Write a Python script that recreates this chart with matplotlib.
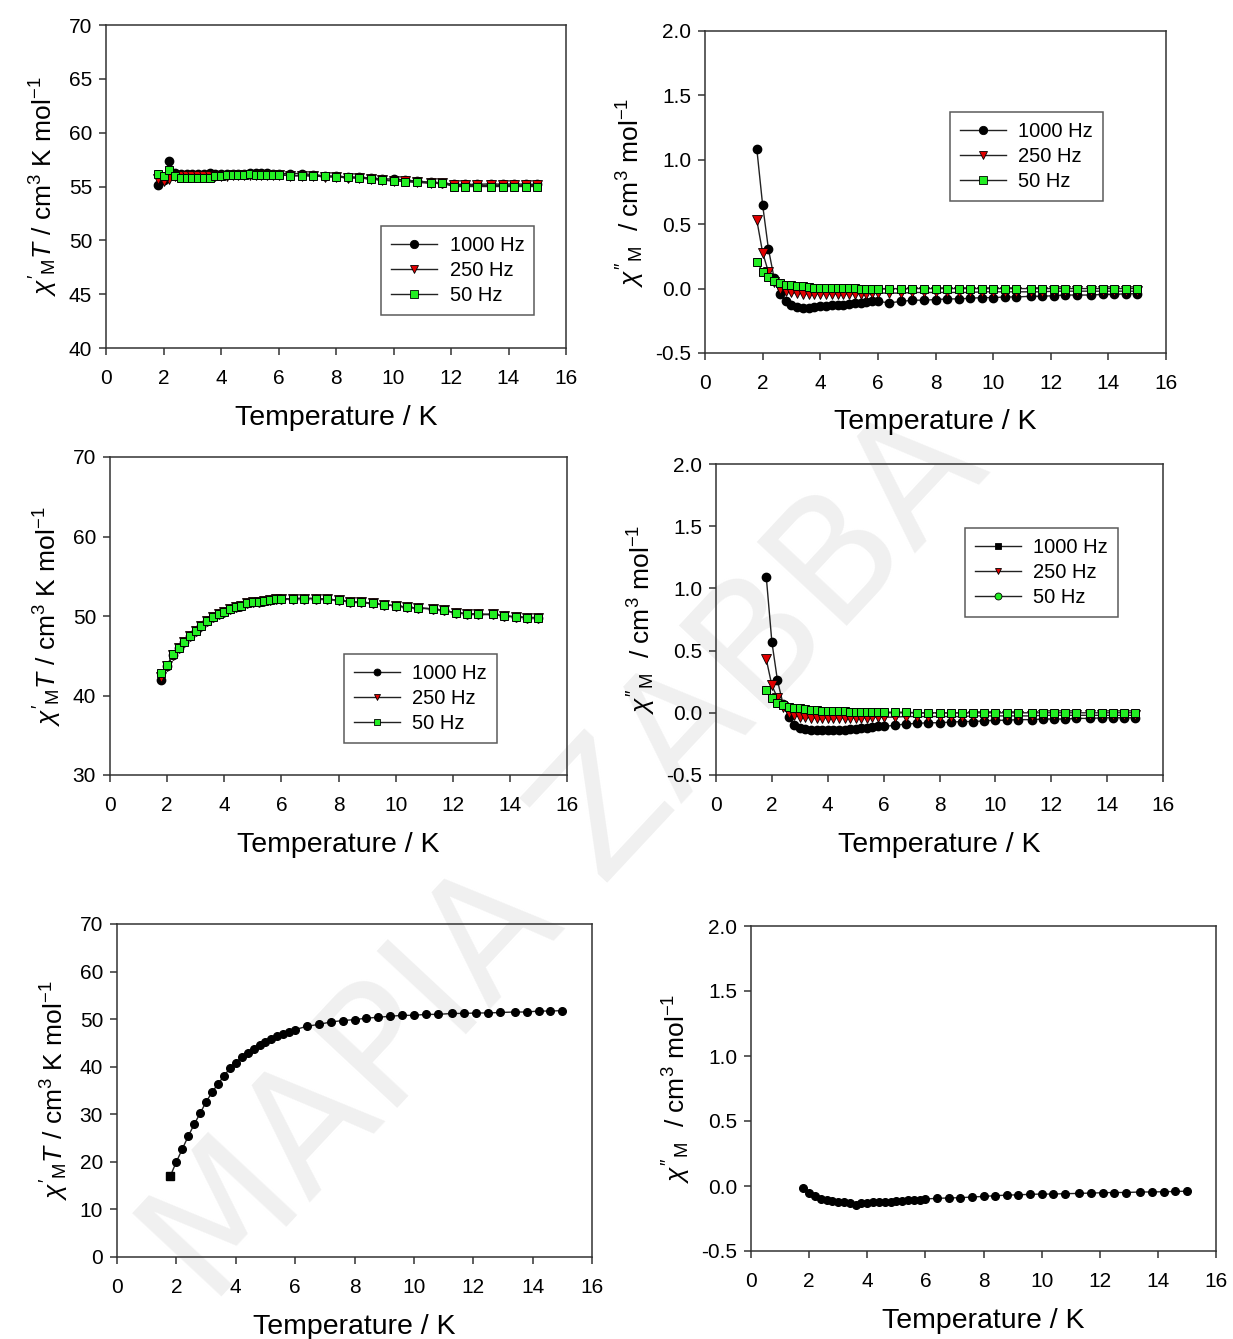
import matplotlib
matplotlib.use("Agg")
import matplotlib.pyplot as plt
from matplotlib.lines import Line2D

plt.rcParams['font.family'] = ['Liberation Sans', 'DejaVu Sans']
plt.rcParams['mathtext.fontset'] = 'custom'
plt.rcParams['mathtext.rm'] = 'Liberation Sans'
plt.rcParams['mathtext.it'] = 'Liberation Sans:italic'
plt.rcParams['mathtext.bf'] = 'Liberation Sans:bold'

# ---------------- data ----------------
temperature = [1.8, 2.0, 2.2, 2.4, 2.6, 2.8, 3.0, 3.2, 3.4, 3.6, 3.8, 4.0, 4.2, 4.4,
               4.6, 4.8, 5.0, 5.2, 5.4, 5.6, 5.8, 6.0, 6.4, 6.8, 7.2, 7.6, 8.0, 8.4,
               8.8, 9.2, 9.6, 10.0, 10.4, 10.8, 11.3, 11.7, 12.1, 12.5, 12.9, 13.4,
               13.8, 14.2, 14.6, 15.0]

# sample 1: in-phase chi'T
s1_real_1000 = [55.1, 55.6, 57.4, 56.3, 56.2, 56.2, 56.2, 56.2, 56.2, 56.3, 56.2, 56.2,
                56.2, 56.2, 56.2, 56.2, 56.3, 56.3, 56.3, 56.3, 56.2, 56.2, 56.2, 56.2,
                56.1, 56.0, 55.95, 55.9, 55.85, 55.8, 55.7, 55.7, 55.6, 55.5, 55.4, 55.35,
                55.2, 55.2, 55.2, 55.25, 55.2, 55.25, 55.2, 55.2]
s1_real_250 = [55.7, 55.5, 55.7, 56.0, 56.0, 56.0, 56.0, 56.0, 56.0, 56.0, 56.0, 56.0,
               56.0, 56.1, 56.1, 56.1, 56.1, 56.1, 56.1, 56.1, 56.1, 56.1, 56.0, 56.0,
               56.0, 55.9, 55.9, 55.8, 55.8, 55.7, 55.6, 55.5, 55.5, 55.4, 55.3, 55.3,
               55.1, 55.1, 55.1, 55.1, 55.1, 55.1, 55.1, 55.1]
s1_real_50 = [56.2, 56.0, 56.5, 56.0, 55.8, 55.8, 55.8, 55.8, 55.8, 55.8, 56.0, 56.0,
              56.1, 56.1, 56.1, 56.1, 56.2, 56.1, 56.1, 56.1, 56.1, 56.1, 56.0, 56.0,
              56.0, 55.95, 55.9, 55.85, 55.8, 55.7, 55.6, 55.55, 55.45, 55.4, 55.35, 55.3,
              55.0, 55.0, 55.0, 55.0, 55.0, 55.0, 55.0, 55.0]

# sample 1: out-of-phase chi''
s1_imag_1000 = [1.08, 0.65, 0.31, 0.08, -0.04, -0.10, -0.13, -0.14, -0.15, -0.15, -0.14,
                -0.135, -0.135, -0.13, -0.13, -0.125, -0.12, -0.115, -0.11, -0.105, -0.10,
                -0.10, -0.11, -0.10, -0.09, -0.09, -0.085, -0.08, -0.08, -0.075, -0.07,
                -0.07, -0.065, -0.065, -0.06, -0.06, -0.055, -0.05, -0.05, -0.05, -0.045,
                -0.045, -0.04, -0.04]
s1_imag_250 = [0.53, 0.28, 0.13, 0.05, 0.0, -0.02, -0.03, -0.035, -0.04, -0.04, -0.04,
               -0.04, -0.04, -0.04, -0.04, -0.04, -0.04, -0.04, -0.04, -0.04, -0.035,
               -0.035, -0.035, -0.035, -0.03, -0.03, -0.03, -0.03, -0.03, -0.03, -0.025,
               -0.025, -0.025, -0.025, -0.025, -0.025, -0.02, -0.02, -0.02, -0.02, -0.02,
               -0.02, -0.02, -0.02]
s1_imag_50 = [0.21, 0.13, 0.09, 0.06, 0.04, 0.03, 0.025, 0.02, 0.02, 0.015, 0.005,
              0.005, 0.005, 0.005, 0.005, 0.005, 0.005, 0.005, 0.0, 0.0, 0.0, 0.0, 0.0,
              0.0, 0.0, 0.0, 0.0, 0.0, 0.0, 0.0, 0.0, 0.0, 0.0, 0.0, 0.0, 0.0, 0.0, 0.0,
              0.0, 0.0, 0.0, 0.0, 0.0, 0.0]

# sample 2: in-phase chi'T
s2_real_1000 = [42.0, 43.7, 45.1, 46.0, 46.7, 47.5, 48.1, 48.8, 49.4, 49.9, 50.3, 50.5,
                50.9, 51.1, 51.3, 51.6, 51.7, 51.8, 51.9, 52.0, 52.1, 52.1, 52.2, 52.2,
                52.2, 52.1, 52.0, 51.8, 51.7, 51.6, 51.4, 51.3, 51.1, 51.0, 50.9, 50.7,
                50.4, 50.3, 50.2, 50.2, 50.0, 49.9, 49.8, 49.8]
s2_real_250 = [42.3, 43.7, 45.1, 46.0, 46.7, 47.5, 48.1, 48.8, 49.4, 49.9, 50.3, 50.5,
               50.9, 51.1, 51.3, 51.6, 51.7, 51.8, 51.9, 52.0, 52.1, 52.1, 52.2, 52.2,
               52.2, 52.1, 52.0, 51.8, 51.7, 51.6, 51.4, 51.3, 51.1, 51.0, 50.9, 50.7,
               50.4, 50.3, 50.2, 50.2, 50.0, 49.9, 49.8, 49.8]
s2_real_50 = [42.8, 43.8, 45.2, 46.0, 46.7, 47.5, 48.1, 48.8, 49.4, 49.9, 50.3, 50.5,
              50.9, 51.1, 51.3, 51.6, 51.7, 51.8, 51.9, 52.0, 52.1, 52.1, 52.2, 52.2,
              52.2, 52.1, 52.0, 51.8, 51.7, 51.6, 51.4, 51.3, 51.1, 51.0, 50.9, 50.7,
              50.4, 50.3, 50.2, 50.2, 50.0, 49.9, 49.8, 49.8]

# sample 2: out-of-phase chi''
s2_imag_1000 = [1.09, 0.57, 0.26, 0.07, -0.03, -0.10, -0.12, -0.13, -0.14, -0.14, -0.14,
                -0.14, -0.14, -0.135, -0.135, -0.13, -0.13, -0.125, -0.12, -0.115, -0.11,
                -0.11, -0.10, -0.09, -0.085, -0.08, -0.08, -0.075, -0.07, -0.07, -0.065,
                -0.06, -0.06, -0.055, -0.055, -0.05, -0.05, -0.05, -0.045, -0.045, -0.04,
                -0.04, -0.04, -0.04]
s2_imag_250 = [0.43, 0.22, 0.12, 0.05, 0.0, -0.02, -0.03, -0.035, -0.04, -0.04, -0.04,
               -0.04, -0.04, -0.04, -0.04, -0.04, -0.04, -0.04, -0.04, -0.035, -0.035,
               -0.035, -0.035, -0.03, -0.03, -0.03, -0.03, -0.03, -0.03, -0.025, -0.025,
               -0.025, -0.025, -0.025, -0.025, -0.02, -0.02, -0.02, -0.02, -0.02, -0.02,
               -0.02, -0.02, -0.02]
s2_imag_50 = [0.18, 0.12, 0.08, 0.065, 0.05, 0.04, 0.035, 0.03, 0.025, 0.02, 0.018,
              0.015, 0.015, 0.012, 0.012, 0.01, 0.01, 0.01, 0.008, 0.008, 0.005, 0.005,
              0.005, 0.005, 0.0, 0.0, 0.0, 0.0, 0.0, 0.0, 0.0, 0.0, 0.0, 0.0, 0.0, 0.0,
              0.0, 0.0, 0.0, 0.0, 0.0, 0.0, 0.0, 0.0]

# sample 3: single frequency
s3_real = [17.1, 20.0, 22.7, 25.4, 27.9, 30.2, 32.6, 34.6, 36.4, 38.0, 39.7, 40.8, 42.0,
           42.8, 43.8, 44.5, 45.3, 45.9, 46.4, 46.8, 47.3, 47.8, 48.5, 48.9, 49.4, 49.7,
           49.9, 50.2, 50.4, 50.6, 50.8, 50.8, 51.0, 51.0, 51.2, 51.2, 51.3, 51.3, 51.4,
           51.5, 51.5, 51.7, 51.7, 51.8]
s3_imag = [-0.015, -0.054, -0.08, -0.097, -0.11, -0.115, -0.12, -0.123, -0.13, -0.148,
           -0.13, -0.13, -0.125, -0.125, -0.125, -0.12, -0.115, -0.113, -0.11, -0.108,
           -0.105, -0.10, -0.095, -0.092, -0.09, -0.085, -0.08, -0.075, -0.07, -0.068,
           -0.064, -0.062, -0.062, -0.059, -0.057, -0.054, -0.052, -0.05, -0.05, -0.046,
           -0.046, -0.044, -0.042, -0.04]

freq_labels = ['1000 Hz', '250 Hz', '50 Hz']

# ---------------- figure ----------------
W, H = 1233, 1339
fig = plt.figure(figsize=(W / 100, H / 100), dpi=100)
fig.patch.set_facecolor('white')

# background name stamp, kept behind every panel
fig.text(0.46, 0.36, 'ΜΑΡΙΑ ΖΑΒΒΑ', rotation=47, fontsize=120,
         color='#f0f0f0', ha='center', va='center', zorder=-5,
         family='DejaVu Sans')


def px_axes(x0, x1, y0, y1):
    return fig.add_axes([x0 / W, 1 - y1 / H, (x1 - x0) / W, (y1 - y0) / H],
                        facecolor='none')


def style(ax, ylim, yticks, ylabel, ylabfmt=None):
    ax.set_xlim(0, 16)
    ax.set_xticks(range(0, 17, 2))
    ax.set_ylim(*ylim)
    ax.set_yticks(yticks)
    if ylabfmt:
        ax.set_yticklabels([ylabfmt.format(v) for v in yticks])
    for sp in ax.spines.values():
        sp.set_color('#333333')
        sp.set_linewidth(1.1)
    ax.tick_params(direction='out', length=5, width=1.1, color='#333333',
                   labelsize=15, top=False, right=False)
    ax.tick_params(axis='x', pad=10)
    ax.tick_params(axis='y', pad=5)
    ax.set_xlabel('Temperature / K', fontsize=20.5, labelpad=12)
    ax.set_ylabel(ylabel, fontsize=19, labelpad=6)


line_kw = dict(color='#222222', lw=1.0)
series_style = [
    dict(marker='o', mfc='black', mec='black', ms=6),
    dict(marker='v', mfc='#e00000', mec='black', mew=0.6, ms=6.5),
    dict(marker='s', mfc='#22ee22', mec='black', mew=0.7, ms=6),
]


def plot_three(ax, ys):
    for y, st in zip(ys, series_style):
        ax.plot(temperature, y, **line_kw, **st)


def add_legend(ax, anchor, markers, ms):
    handles = []
    for (mk, fc), lab in zip(markers, freq_labels):
        handles.append(Line2D([], [], color='#222222', lw=1.0, marker=mk, mfc=fc,
                              mec='black', mew=0.6, ms=ms, label=lab))
    leg = ax.legend(handles=handles, loc='upper left', bbox_to_anchor=anchor,
                    borderaxespad=0, fontsize=14.5, frameon=True, fancybox=False,
                    edgecolor='#333333', handlelength=2.3, handletextpad=0.6,
                    labelspacing=0.3, borderpad=0.5, numpoints=1)
    leg.get_frame().set_linewidth(1.1)
    return leg


ylab_real = r"$\chi'_{\mathrm{M}}T$ / cm$^3$ K mol$^{-1}$"
ylab_imag = r"$\chi''_{\mathrm{M}}$  / cm$^3$ mol$^{-1}$"
imag_ticks = [-0.5, 0.0, 0.5, 1.0, 1.5, 2.0]

# sample 1
ax = px_axes(106, 566, 25, 348)
plot_three(ax, [s1_real_1000, s1_real_250, s1_real_50])
style(ax, (40, 70), range(40, 71, 5), ylab_real)
add_legend(ax, (0.598, 0.378), [('o', 'black'), ('v', '#e00000'), ('s', '#22ee22')], 6)

ax = px_axes(705, 1166, 31, 353)
plot_three(ax, [s1_imag_1000, s1_imag_250, s1_imag_50])
style(ax, (-0.5, 2.0), imag_ticks, ylab_imag, '{:.1f}')
add_legend(ax, (0.531, 0.748), [('o', 'black'), ('v', '#e00000'), ('s', '#22ee22')], 6)

# sample 2
ax = px_axes(110, 567, 457, 775)
plot_three(ax, [s2_real_1000, s2_real_250, s2_real_50])
style(ax, (30, 70), range(30, 71, 10), ylab_real)
add_legend(ax, (0.512, 0.381), [('o', 'black'), ('v', '#e00000'), ('s', '#22ee22')], 5)

ax = px_axes(716, 1163, 464, 775)
plot_three(ax, [s2_imag_1000, s2_imag_250, s2_imag_50])
style(ax, (-0.5, 2.0), imag_ticks, ylab_imag, '{:.1f}')
add_legend(ax, (0.557, 0.794), [('s', 'black'), ('v', '#e00000'), ('o', '#22ee22')], 5)

# sample 3
ax = px_axes(117, 592, 924, 1257)
ax.plot(temperature, s3_real, **line_kw, marker='o', mfc='black', mec='black', ms=5.5)
ax.plot(temperature[:1], s3_real[:1], ls='none', marker='s', mfc='black', mec='black', ms=6)
style(ax, (0, 70), range(0, 71, 10), ylab_real)

ax = px_axes(751, 1216, 926, 1251)
ax.plot(temperature, s3_imag, **line_kw, marker='o', mfc='black', mec='black', ms=5.5)
style(ax, (-0.5, 2.0), imag_ticks, ylab_imag, '{:.1f}')

fig.savefig('out.png', dpi=100, facecolor='white')
